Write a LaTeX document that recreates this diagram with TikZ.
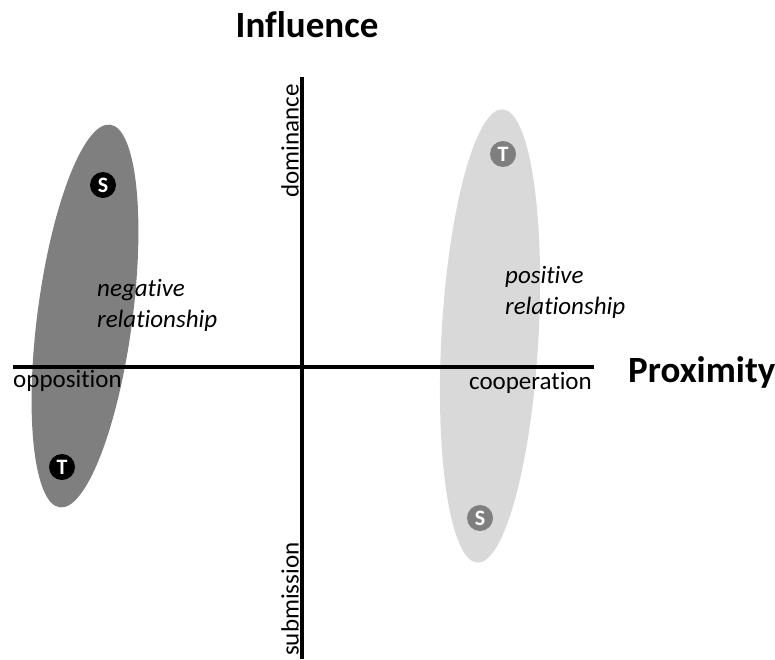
\documentclass[tikz,border=0pt]{standalone}
\usepackage{fontspec}
\setmainfont{Carlito}[Ligatures={NoCommon}]
\usetikzlibrary{shapes.geometric}
\definecolor{darkg}{HTML}{7F7F7F}
\definecolor{lightg}{HTML}{D9D9D9}
\tikzset{
  blob/.style={ellipse, inner sep=0pt, draw=none},
  badge/.style={circle, inner sep=0pt, minimum size=26pt, text=white, font=\fontsize{22}{22}\selectfont\bfseries},
  axis/.style={line width=4pt},
  lbl/.style={inner sep=0pt, font=\fontsize{25}{25}\selectfont},
  rel/.style={inner sep=0pt, align=left, font=\fontsize{25}{31}\selectfont\itshape},
  title/.style={inner sep=0pt, font=\fontsize{37}{37}\selectfont\bfseries}
}
\begin{document}
\begin{tikzpicture}[x=1pt,y=-1pt]
\useasboundingbox (0,0) rectangle (775,659);
% ellipses
\node[blob, fill=darkg, minimum width=95pt, minimum height=386pt, rotate=-7.5] (lell) at (85,316) {};
\node[blob, fill=lightg, minimum width=97pt, minimum height=454pt, rotate=-3.2] (rell) at (490,336) {};
% axes
\coordinate (hl) at (13,367);
\coordinate (hr) at (594,367);
\coordinate (vt) at (302,77);
\coordinate (vb) at (302,659);
\draw[axis] (hl) -- (hr);
\draw[axis] (vt) -- (vb);
% badges
\node[badge, fill=black] (s1) at (103,185) {S};
\node[badge, fill=black] (t1) at (62,467) {T};
\node[badge, fill=darkg] (t2) at (503,154) {T};
\node[badge, fill=darkg] (s2) at (480,518) {S};
% labels
\node[title] (infl) at (307,25) {Influence};
\node[title, anchor=west] (prox) at (628,372) {Proximity};
\node[lbl, rotate=90, anchor=east] (dom) at (290,84) {dominance};
\node[lbl, rotate=90, anchor=west] (sub) at (290,656) {submission};
\node[lbl, anchor=west] (opp) at (13,381) {opposition};
\node[lbl, anchor=east] (coop) at (592,383) {cooperation};
\node[rel, anchor=north west] (neg) at (97,279) {negative\\relationship};
\node[rel, anchor=north west] (pos) at (505,266) {positive\\relationship};
\end{tikzpicture}
\end{document}
